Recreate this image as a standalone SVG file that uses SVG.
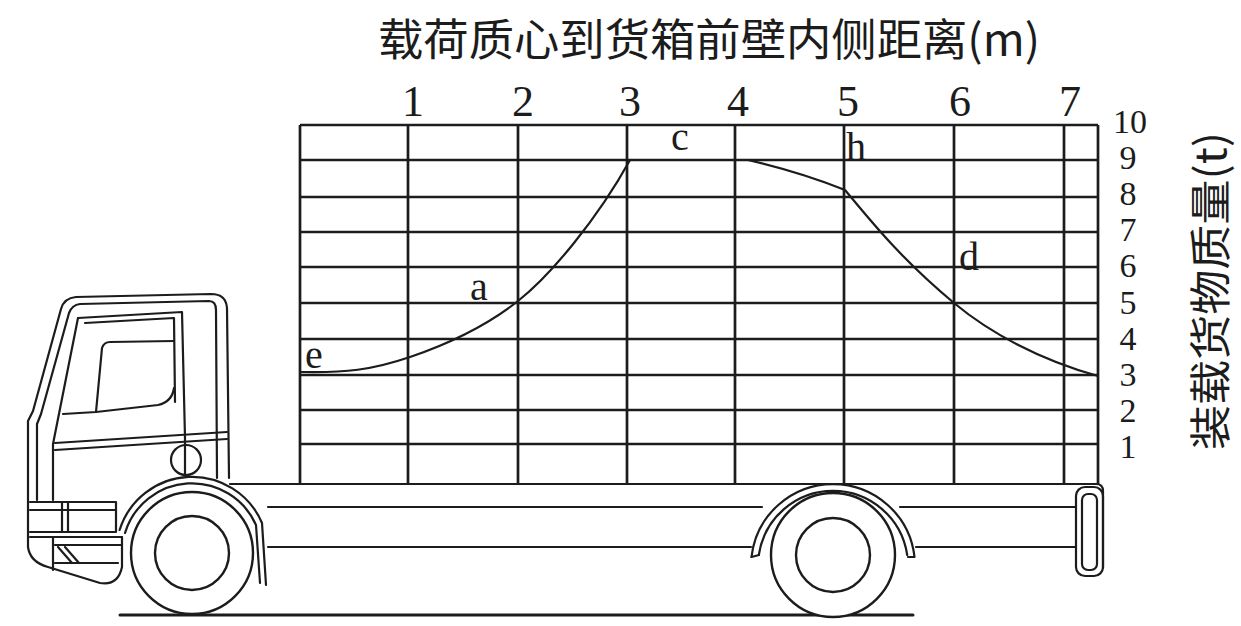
<svg xmlns="http://www.w3.org/2000/svg" width="1241" height="626" viewBox="0 0 1241 626">
<style>
.g{stroke:#1c1c1c;stroke-width:2.7;fill:none}
.t{stroke:#1c1c1c;stroke-width:2.2;fill:none;stroke-linejoin:round;stroke-linecap:round}
.wh{stroke:#1c1c1c;stroke-width:2.4;fill:#fff}
.num{font-family:"Liberation Serif","DejaVu Serif",serif;fill:#1c1c1c}
.cjk{font-family:"Noto Sans CJK SC","Noto Sans CJK TC",sans-serif;fill:#1c1c1c}
</style>
<rect width="1241" height="626" fill="#fff"/>
<g id="title">
<text class="cjk" x="378" y="56" font-size="44" textLength="662" lengthAdjust="spacingAndGlyphs">载荷质心到货箱前壁内侧距离(m)</text>
<text class="cjk" transform="translate(1226,450) rotate(-90)" font-size="42" textLength="318" lengthAdjust="spacingAndGlyphs">装载货物质量(t)</text>
</g>
<g id="grid" class="g">
<path d="M300,125V484M408,125V484M518,125V484M627,125V484M735,125V484M844,125V484M954,125V484M1064,125V484M1098,125V484"/>
<path d="M300,125H1098M300,160H1098M300,197H1098M300,232H1098M300,267H1098M300,303H1098M300,339H1098M300,375H1098M300,410H1098M300,444H1098"/>
</g>
<g id="x-labels" class="num" font-size="44" text-anchor="middle">
<text x="413" y="116">1</text><text x="523" y="116">2</text><text x="630" y="116">3</text><text x="738" y="116">4</text><text x="848" y="116">5</text><text x="960" y="116">6</text><text x="1070" y="116">7</text>
</g>
<g id="y-labels" class="num" font-size="34" text-anchor="middle">
<text x="1130" y="133">10</text><text x="1128" y="169">9</text><text x="1128" y="205">8</text><text x="1128" y="241">7</text><text x="1128" y="277">6</text><text x="1128" y="314">5</text><text x="1128" y="350">4</text><text x="1128" y="386">3</text><text x="1128" y="422">2</text><text x="1128" y="458">1</text>
</g>
<g id="curve" class="t">
<path d="M300,372 C345,373 372,370 410,357 C448,344 485,327 518,301 C551,275 598,218 630,160 L748,160 Q800,172 845,190 C870,220 900,258 954,303 C990,333 1040,360 1098,376"/>
</g>
<g id="point-labels" class="num" font-size="40">
<text x="305" y="368">e</text><text x="470" y="300">a</text><text x="671" y="150">c</text><text x="846" y="160">h</text><text x="959" y="270">d</text>
</g>
<g id="truck">
<g id="chassis" class="t">
<path d="M230,484 L1096,484 Q1103,484 1103,491 L1103,568"/>
<path d="M268,507 L762,507 M900,507 L1076,507"/>
<path d="M268,547 L751,547 M916,547 L1076,547"/>
<path d="M120,615 L913,615" stroke-width="3"/>
<rect x="1076" y="487" width="27" height="89" rx="9"/>
<rect x="1082" y="494" width="15" height="76" rx="6"/>
</g>
<g id="front-fender" class="t">
<path d="M119.6,530 A76,76 0 0 1 262,523 L266,585"/>
<path d="M125,533 A70,70 0 0 1 256,525 L260,583"/>
</g>
<g id="rear-fender" class="t">
<path d="M751.5,557 A82,82 0 0 1 914.5,557 L908,557"/>
<path d="M758.8,555 A75,75 0 0 1 907.2,555"/>
<path d="M751.5,557 L759,555"/>
</g>
<g id="front-wheel">
<circle class="wh" cx="192" cy="553" r="61"/>
<circle class="wh" cx="192" cy="553" r="37"/>
</g>
<g id="rear-wheel">
<circle class="wh" cx="833" cy="555" r="62"/>
<circle class="wh" cx="833" cy="555" r="37"/>
</g>
<g id="cab" class="t">
<path d="M28,547 L28,421 L33,411 L61,309 Q64,298 76,297 L211,294 Q226,294 227,308 L229,478"/>
<path d="M37,500 L37,424 L41,414 L69,313 Q72,305 80,304 L209,301 Q216,301 216,310 L217,478"/>
<path d="M78,318 L182,312 L185,438"/>
<path d="M85,323 L174,318 L175,402"/>
<path d="M78,318 L53,444 L53,500"/>
<path d="M63,414 L96,412 L158,405 Q172,402 174,388"/>
<path d="M96,412 L102,348 Q104,342 110,342 L174,341"/>
<path d="M55,443 L227,432 M55,450 L227,439"/>
<ellipse cx="186" cy="460" rx="15" ry="15"/>
<path d="M185,438 L185,475"/>
<path d="M30,502 L116,502 M30,510 L116,510 M30,532 L116,532 M62,502 L62,532 M68,502 L68,532 M116,502 L116,532"/>
<path d="M28,547 Q30,562 48,567 L100,583 Q118,586 122,567 L122,537"/>
<path d="M30,537 L122,537 M55,545 L122,545 M53,537 L53,570 M55,563 L118,563 M58,547 L72,563 M65,547 L79,563"/>
</g>
</g>
</svg>
